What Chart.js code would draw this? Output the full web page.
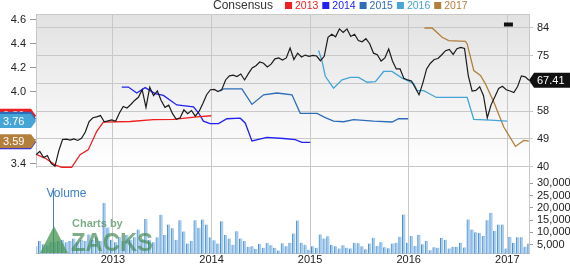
<!DOCTYPE html>
<html lang="en">
<head>
<meta charset="UTF-8">
<title>Price, Consensus &amp; Volume</title>
<script src="https://cdn.jsdelivr.net/npm/chart.js"></script>
<style>
  body { margin: 0; background: #fff; }
  #wrap { position: relative; width: 570px; height: 264px; }
</style>
</head>
<body>
<div id="wrap"><canvas id="chart"></canvas></div>
<script>
// time axis in decimal years, one price/volume sample every two weeks
const T0 = 2012.22;
const STEP = 1 / 26;
const yearTicks = [2013, 2014, 2015, 2016, 2017];

// closing price (right axis)
const closePrice = [
  43.8, 44.8, 42.9, 43.5, 41.0, 40.1, 45.0, 48.6, 48.7, 48.4,
  48.8, 48.3, 49.0, 51.0, 54.3, 55.5, 55.8, 56.2, 54.2, 54.5,
  54.8, 54.4, 57.0, 59.1, 58.6, 59.7, 61.0, 62.0, 64.4, 58.8,
  65.2, 62.5, 64.0, 61.0, 58.8, 59.5, 56.8, 55.0, 55.5, 58.0,
  56.8, 57.8, 56.0, 57.5, 60.0, 62.8, 64.4, 64.5, 63.8, 64.5,
  67.5, 68.8, 69.0, 68.6, 69.4, 67.5, 69.5, 71.3, 72.0, 73.2,
  72.8, 71.6, 72.5, 74.2, 74.5, 73.8, 74.5, 77.6, 74.0, 76.0,
  74.8, 75.4, 75.0, 75.3, 75.1, 73.6, 75.0, 81.0, 82.0, 81.2,
  83.7, 82.6, 83.7, 81.3, 82.0, 80.0, 79.6, 80.6, 79.0, 76.0,
  75.5, 73.5, 74.5, 77.3, 73.5, 71.0, 71.0, 68.0, 67.5, 67.2,
  65.0, 62.8, 66.5, 71.0, 72.8, 74.0, 74.3, 75.5, 76.8, 77.2,
  75.6, 77.4, 77.8, 77.5, 68.8, 64.0, 64.2, 65.3, 62.5, 55.5,
  59.6, 62.2, 64.8, 65.5, 64.4, 64.0, 63.5, 65.4, 68.8, 68.5,
  67.41
];

// volume (thousands of shares)
const volume = [
  4500, 6500, 5200, 4800, 6000, 6000, 6500, 7000, 6000, 6500,
  7500, 6000, 7000, 6500, 9200, 7000, 8000, 6500, 22000, 12000,
  7000, 6000, 8000, 6500, 9000, 7000, 8000, 11200, 7000, 15500,
  7000, 6000, 8000, 17200, 9000, 13200, 11700, 7000, 15000, 10400,
  5500, 6500, 15000, 11900, 15300, 13200, 8000, 6800, 5500, 14600,
  9000, 7500, 5000, 10500, 7500, 6500, 4200, 4400, 3300, 5400,
  3800, 5800, 4800, 3800, 2600, 5600, 4400, 5800, 9600, 14900,
  5800, 5000, 3000, 4400, 3800, 9200, 7500, 8400, 5000, 4400,
  3500, 4800, 3800, 3500, 5800, 5600, 4400, 3200, 5500, 7800,
  4500, 6000, 4000, 3600, 5500, 5800, 8200, 17300, 5800, 8500,
  4500, 9100, 5200, 6500, 2800, 4000, 3800, 7700, 7000, 3500,
  4200, 4200, 5800, 3900, 15300, 11200, 10100, 9800, 8500, 15000,
  18000, 10600, 13200, 13200, 3500, 8200, 5800, 8000, 8000, 4200,
  5500
];

// EPS consensus per fiscal year: [date, estimate] (left axis)
const eps2013 = [
  [2012.227, 3.475], [2012.311, 3.447], [2012.413, 3.39], [2012.481, 3.37],
  [2012.582, 3.37], [2012.667, 3.475], [2012.751, 3.517], [2012.836, 3.67],
  [2012.903, 3.747], [2013.174, 3.752], [2013.411, 3.767], [2013.614, 3.77],
  [2013.851, 3.79], [2013.997, 3.80]
];
const eps2014 = [
  [2013.090, 4.04], [2013.157, 4.04], [2013.242, 3.99], [2013.327, 4.035],
  [2013.428, 3.985], [2013.512, 3.97], [2013.648, 3.89], [2013.817, 3.875],
  [2013.868, 3.825], [2013.918, 3.755], [2013.985, 3.735], [2014.071, 3.735],
  [2014.156, 3.775], [2014.291, 3.78], [2014.342, 3.74], [2014.410, 3.59],
  [2014.562, 3.62], [2014.731, 3.61], [2014.849, 3.60], [2014.917, 3.578],
  [2015.002, 3.578]
];
const eps2015 = [
  [2014.088, 4.006], [2014.122, 4.025], [2014.308, 4.025], [2014.410, 3.895],
  [2014.528, 3.975], [2014.664, 3.99], [2014.816, 3.975], [2014.900, 3.82],
  [2015.070, 3.82], [2015.154, 3.785], [2015.238, 3.755], [2015.340, 3.75],
  [2015.441, 3.767], [2015.644, 3.755], [2015.831, 3.748], [2015.898, 3.775],
  [2015.994, 3.775]
];
const eps2016 = [
  [2015.086, 4.345], [2015.120, 4.26], [2015.154, 4.13], [2015.238, 4.03],
  [2015.324, 4.10], [2015.408, 4.12], [2015.492, 4.12], [2015.577, 4.08],
  [2015.662, 4.085], [2015.746, 4.17], [2015.831, 4.17], [2015.933, 4.115],
  [2016.050, 4.07], [2016.085, 4.01], [2016.152, 4.01], [2016.281, 3.953],
  [2016.593, 3.953], [2016.660, 3.77], [2016.829, 3.763], [2016.999, 3.756]
];
const eps2017 = [
  [2016.159, 4.533], [2016.237, 4.533], [2016.339, 4.456], [2016.406, 4.428],
  [2016.575, 4.422], [2016.593, 4.40], [2016.660, 4.178], [2016.728, 4.136],
  [2016.778, 4.067], [2016.863, 3.914], [2016.964, 3.706], [2017.083, 3.544],
  [2017.167, 3.594], [2017.218, 3.588]
];
const nextYearMark = [[2016.966, 4.5625], [2017.057, 4.5625]];

const epsYears = ['2013', '2014', '2015', '2016', '2017'];
const epsColors = ['#f01e1e', '#2121f5', '#2d6cb8', '#45a5d6', '#b27f3c'];
const epsTicks = [3.4, 3.6, 3.8, 4.0, 4.2, 4.4, 4.6];
const priceTicks = [40, 48.8, 57.6, 66.4, 75.2, 84];
const volumeTicks = [5000, 10000, 15000, 20000, 25000, 30000];

const FONT = 'Arial, "Liberation Sans", sans-serif';
Chart.defaults.font.family = FONT;
Chart.defaults.font.size = 11;
Chart.defaults.color = '#222';

const dates = closePrice.map((p, i) => T0 + i * STEP);
const toXY = arr => arr.map(([x, y]) => ({x, y}));
const epsSeries = [eps2013, eps2014, eps2015, eps2016, eps2017];

const fixWidth = w => scale => { scale.width = w; };
const setTicks = vals => scale => { scale.ticks = vals.map(v => ({value: v})); };

function leftFlag(ctx, tipX, y, color, text) {
  ctx.beginPath();
  ctx.moveTo(0, y - 7);
  ctx.lineTo(tipX - 5, y - 7);
  ctx.lineTo(tipX, y);
  ctx.lineTo(tipX - 5, y + 7);
  ctx.lineTo(0, y + 7);
  ctx.closePath();
  ctx.fillStyle = color;
  ctx.fill();
  ctx.fillStyle = '#fff';
  ctx.textAlign = 'left';
  ctx.textBaseline = 'middle';
  ctx.font = '11px ' + FONT;
  ctx.fillText(text, 3, y + 0.5);
}

const overlay = {
  id: 'overlay',
  beforeDraw(chart) {
    const {ctx, chartArea: a, scales: {yPrice}} = chart;
    const g = ctx.createLinearGradient(0, a.top, 0, yPrice.bottom);
    g.addColorStop(0, '#e2e2e2');
    g.addColorStop(1, '#ffffff');
    ctx.save();
    ctx.fillStyle = g;
    ctx.fillRect(a.left, a.top, a.right - a.left, yPrice.bottom - a.top);
    ctx.restore();
  },
  afterDatasetsDraw(chart) {
    const {ctx, scales: {x, yVol}} = chart;
    ctx.save();
    // volume caption
    const vx = Math.round(x.getPixelForValue(2012.395)) + 0.5;
    ctx.strokeStyle = '#3d80c4';
    ctx.lineWidth = 1;
    ctx.beginPath();
    ctx.moveTo(vx, 190);
    ctx.lineTo(vx, yVol.bottom);
    ctx.stroke();
    ctx.fillStyle = '#3d80c4';
    ctx.font = '12px ' + FONT;
    ctx.textBaseline = 'middle';
    ctx.fillText('Volume', 46.5, 193.5);
    // watermark
    ctx.fillStyle = 'rgba(70,150,80,0.75)';
    ctx.beginPath();
    ctx.moveTo(54, 226);
    ctx.lineTo(68, 253);
    ctx.lineTo(40, 253);
    ctx.closePath();
    ctx.fill();
    ctx.fillStyle = 'rgba(70,140,85,0.7)';
    ctx.font = 'bold 11px ' + FONT;
    ctx.textBaseline = 'alphabetic';
    ctx.fillText('Charts by', 72, 227);
    ctx.font = 'bold 26px ' + FONT;
    ctx.fillText('ZACKS', 71, 251, 82);
    ctx.restore();
  },
  afterDraw(chart) {
    const {ctx, chartArea: a, scales: {yEps, yPrice}} = chart;
    ctx.save();
    // frame top
    ctx.strokeStyle = '#c8c8c8';
    ctx.beginPath();
    ctx.moveTo(a.left, a.top + 0.5);
    ctx.lineTo(a.right, a.top + 0.5);
    ctx.stroke();
    // last-value flags for each consensus year
    epsSeries.forEach((s, i) => {
      const v = s[s.length - 1][1];
      leftFlag(ctx, a.left, yEps.getPixelForValue(v), epsColors[i], v.toFixed(2));
    });
    // last price flag
    const last = closePrice[closePrice.length - 1];
    const py = yPrice.getPixelForValue(last);
    ctx.beginPath();
    ctx.moveTo(a.right, py);
    ctx.lineTo(a.right + 5, py - 7.5);
    ctx.lineTo(chart.width, py - 7.5);
    ctx.lineTo(chart.width, py + 7.5);
    ctx.lineTo(a.right + 5, py + 7.5);
    ctx.closePath();
    ctx.fillStyle = '#111';
    ctx.fill();
    ctx.fillStyle = '#fff';
    ctx.font = '11px ' + FONT;
    ctx.textBaseline = 'middle';
    ctx.fillText(last.toFixed(2), a.right + 8, py + 0.5);
    // legend
    ctx.fillStyle = '#333';
    ctx.font = '12px ' + FONT;
    ctx.fillText('Consensus', 213, 6);
    epsYears.forEach((yr, i) => {
      const lx = 285 + i * 37.3;
      ctx.fillStyle = epsColors[i];
      ctx.fillRect(lx, 2, 7, 7);
      ctx.font = '10.5px ' + FONT;
      ctx.fillText(yr, lx + 10, 6);
    });
    ctx.restore();
  }
};

new Chart(document.getElementById('chart'), {
  data: {
    datasets: [
      {
        type: 'line', label: 'Price', yAxisID: 'yPrice',
        data: closePrice.map((p, i) => ({x: dates[i], y: p})),
        borderColor: '#1b1b1b', borderWidth: 1.2, pointRadius: 0, clip: 2
      },
      ...epsSeries.map((s, i) => ({
        type: 'line', label: epsYears[i], yAxisID: 'yEps',
        data: toXY(s), borderColor: epsColors[i], borderWidth: 1.3,
        pointRadius: 0, clip: 2
      })),
      {
        type: 'line', label: 'next', yAxisID: 'yEps', data: toXY(nextYearMark),
        borderColor: '#111', borderWidth: 4, pointRadius: 0, borderCapStyle: 'butt'
      },
      {
        type: 'bar', label: 'Volume', yAxisID: 'yVol',
        data: volume.map((v, i) => ({x: dates[i], y: v})),
        backgroundColor: '#a8ccec',
        borderColor: '#4a8fd2',
        borderWidth: {left: 1, top: 0, right: 0, bottom: 0},
        borderSkipped: false,
        barThickness: 3, grouped: false, clip: 0
      }
    ]
  },
  options: {
    responsive: true,
    maintainAspectRatio: false,
    animation: false,
    events: [],
    layout: {padding: {top: 14, left: 0, right: 0, bottom: 0}},
    plugins: {legend: {display: false}, tooltip: {enabled: false}},
    scales: {
      x: {
        type: 'linear', position: 'bottom', offset: false,
        min: T0, max: T0 + STEP * (closePrice.length - 1),
        afterBuildTicks: setTicks(yearTicks),
        afterFit: scale => { scale.height = 10; },
        ticks: {callback: v => String(v), padding: 0, maxRotation: 0, autoSkip: false},
        grid: {color: '#c8c8c8', drawTicks: false, offset: false},
        border: {color: '#bdbdbd'}
      },
      yBlank: {
        type: 'linear', position: 'left', stack: 'L', stackWeight: 86, min: 0, max: 1,
        afterFit: fixWidth(36),
        ticks: {display: false}, grid: {display: false}, border: {display: false}
      },
      yEps: {
        type: 'linear', position: 'left', stack: 'L', stackWeight: 154, min: 3.367, max: 4.65,
        afterFit: fixWidth(36),
        afterBuildTicks: setTicks(epsTicks),
        ticks: {callback: v => v.toFixed(1), padding: 4, autoSkip: false},
        grid: {drawOnChartArea: false, tickLength: 6, color: '#9a9a9a'},
        border: {color: '#c8c8c8'}
      },
      yPrice: {
        type: 'linear', position: 'right', stack: 'R', stackWeight: 154, min: 39.68, max: 88.43,
        afterFit: fixWidth(41),
        afterBuildTicks: setTicks(priceTicks),
        ticks: {callback: v => Math.round(v), padding: 4, autoSkip: false},
        grid: {color: '#c8c8c8', tickLength: 4},
        border: {color: '#c8c8c8'}
      },
      yVol: {
        type: 'linear', position: 'right', stack: 'R', stackWeight: 86, min: 1469, max: 36372,
        afterFit: fixWidth(41),
        afterBuildTicks: setTicks(volumeTicks),
        ticks: {callback: v => v.toLocaleString('en-US'), padding: 4, autoSkip: false},
        grid: {drawOnChartArea: false, tickLength: 4, color: '#9a9a9a'},
        border: {color: '#c8c8c8'}
      }
    }
  },
  plugins: [overlay]
});
</script>
</body>
</html>
